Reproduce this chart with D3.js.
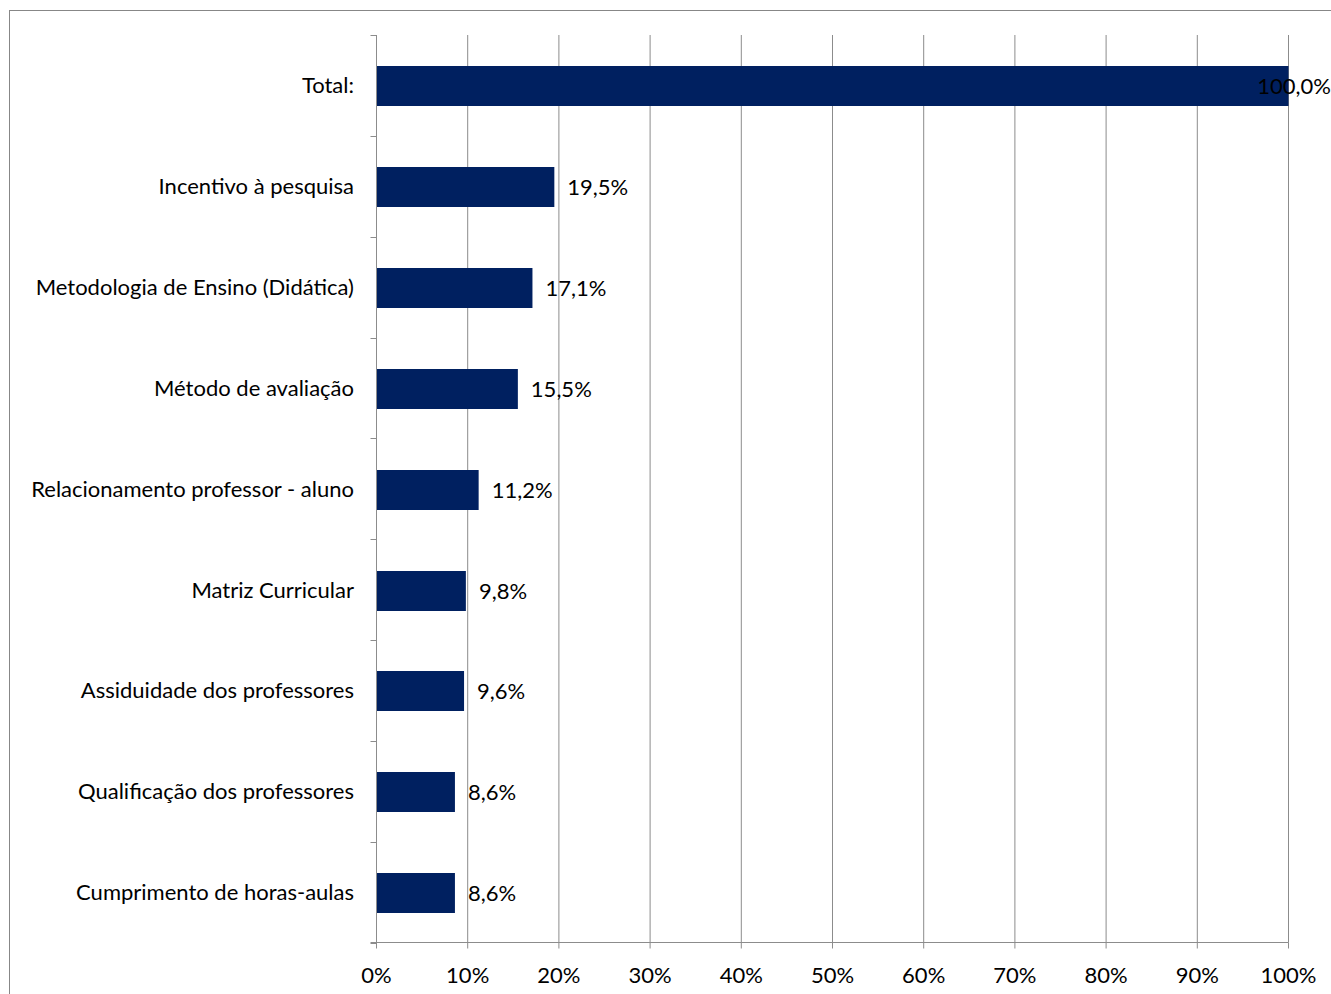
<!DOCTYPE html>
<html><head><meta charset="utf-8">
<script src="https://cdn.jsdelivr.net/npm/d3@7"></script>
<style>body{margin:0;background:#fff}svg{display:block}text{font-family:Lato,"Open Sans",sans-serif;fill:#000}</style>
</head><body>
<script>
const categories = ["Total:","Incentivo à pesquisa","Metodologia de Ensino (Didática)","Método de avaliação","Relacionamento professor - aluno","Matriz Curricular","Assiduidade dos professores","Qualificação dos professores","Cumprimento de horas-aulas"];
const values = [100.0,19.5,17.1,15.5,11.2,9.8,9.6,8.6,8.6];
const valueLabels = ["100,0%","19,5%","17,1%","15,5%","11,2%","9,8%","9,6%","8,6%","8,6%"];
const xTicks = [0,10,20,30,40,50,60,70,80,90,100];

const W=1331,H=994;
const svg=d3.select("body").append("svg").attr("width",W).attr("height",H);
svg.append("rect").attr("x",9.5).attr("y",10.5).attr("width",W+20).attr("height",H+20).attr("fill","#fff").attr("stroke","#878787");
const L=376.5,R=1288.5,T=35,B=942.5;
const x=d3.scaleLinear().domain([0,100]).range([L,R]);
const yb=d3.scaleBand().domain(categories).range([T,B]);
const grid="#8c8c8c";
const FS=22;
svg.append("g").selectAll("line").data(xTicks.slice(1)).join("line")
 .attr("x1",d=>x(d)).attr("x2",d=>x(d)).attr("y1",T).attr("y2",B).attr("stroke",grid);
svg.append("g").selectAll("rect").data(values).join("rect")
 .attr("x",x(0)).attr("y",(d,i)=>Math.round(yb(categories[i])+yb.bandwidth()/2-19)).attr("height",40)
 .attr("width",d=>x(d)-x(0)).attr("fill","#002060");
svg.append("line").attr("x1",L).attr("x2",L).attr("y1",T).attr("y2",B).attr("stroke",grid);
const bounds=categories.map(c=>yb(c)).concat([B]);
svg.append("g").selectAll("line").data(bounds).join("line")
 .attr("x1",L-6).attr("x2",L).attr("y1",d=>Math.round(d)+0.5).attr("y2",d=>Math.round(d)+0.5).attr("stroke",grid);
svg.append("line").attr("x1",L-6).attr("x2",R).attr("y1",B).attr("y2",B).attr("stroke",grid);
svg.append("g").selectAll("line").data(xTicks).join("line")
 .attr("x1",d=>x(d)).attr("x2",d=>x(d)).attr("y1",B).attr("y2",B+6).attr("stroke",grid);
svg.append("g").selectAll("text").data(xTicks).join("text")
 .attr("x",d=>x(d)).attr("y",983).attr("text-anchor","middle").attr("font-size",FS).text(d=>d+"%");
svg.append("g").selectAll("text").data(categories).join("text")
 .attr("x",354).attr("y",c=>yb(c)+yb.bandwidth()/2+8).attr("text-anchor","end").attr("font-size",FS).text(c=>c);
svg.append("g").selectAll("text").data(values).join("text")
 .attr("y",(d,i)=>yb(categories[i])+yb.bandwidth()/2+9).attr("font-size",FS).text((d,i)=>valueLabels[i])
 .each(function(d){const w=this.getComputedTextLength();let px=x(d)+13;if(px+w>W)px=W-w;d3.select(this).attr("x",px);});
</script>
</body></html>
